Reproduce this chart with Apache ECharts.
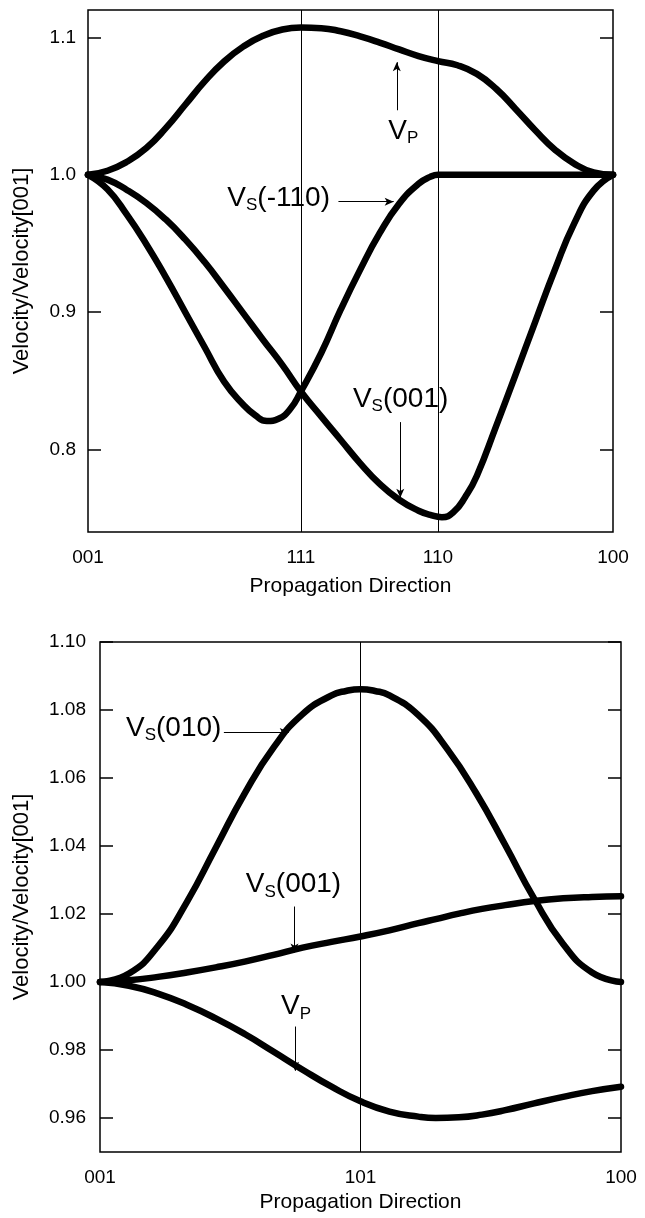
<!DOCTYPE html>
<html>
<head>
<meta charset="utf-8">
<script src="https://cdn.jsdelivr.net/npm/echarts@6/dist/echarts.min.js"></script>
<style>
html,body{margin:0;padding:0;background:#fff;}
#c{width:645px;height:1218px;}
</style>
</head>
<body>
<div id="c"></div>
<script>
// ---------- Top panel: 001 -> 111 -> 110 -> 100 (angle, degrees) ----------
var topAnglesVP   = [0,5,10,15,20,25,30,35,40,45,50,54.74,60,65,70,75,80,85,90,95,100,105,110,115,120,125,130,135];
var topVP         = [1.0,1.003,1.0095,1.0195,1.034,1.051,1.068,1.0825,1.0935,1.1012,1.1058,1.1072,1.1068,1.1045,1.1008,1.0963,1.0913,1.0865,1.0828,1.0798,1.0735,1.0625,1.0478,1.0325,1.0185,1.0082,1.0018,1.0];
var topAnglesS110 = [0,5,10,15,20,25,30,35,40,43,46,49,52,54.74,60,65,70,75,80,85,88,90,100,110,120,135];
var topVS110      = [1.0,0.9895,0.971,0.9495,0.9255,0.900,0.8745,0.8495,0.8325,0.825,0.8208,0.8225,0.8295,0.8423,0.8705,0.902,0.931,0.9575,0.979,0.9935,0.9985,1.0,1.0,1.0,1.0,1.0];
var topAnglesS001 = [0,5,10,15,20,25,30,35,40,45,50,54.74,60,65,70,75,80,85,88,91,94,97,100,105,110,115,120,125,130,135];
var topVS001      = [1.0,0.9965,0.989,0.9795,0.9675,0.953,0.9365,0.918,0.899,0.880,0.8615,0.8423,0.824,0.807,0.790,0.775,0.7635,0.7555,0.7525,0.7508,0.7545,0.7655,0.781,0.8175,0.855,0.893,0.9305,0.9645,0.9885,1.0];
var topTickAngles = [0,54.74,90,135];
var topTickNames  = ['001','111','110','100'];
var topYTicks = [0.8,0.9,1.0,1.1];

// ---------- Bottom panel: 001 -> 101 -> 100 ----------
var botAnglesS010 = [0,5,10,15,20,25,30,35,40,42.5,45,47.5,50,55,60,65,70,75,80,85,90];
var botVS010      = [1.0,1.0025,1.0105,1.0235,1.0395,1.0555,1.069,1.0788,1.0843,1.0856,1.0861,1.0856,1.0843,1.0785,1.0685,1.0555,1.0403,1.0245,1.0112,1.0028,1.0];
var botAngles     = [0,5,10,15,20,25,30,35,40,45,50,55,58,62,66,70,75,80,85,90];
var botVS001      = [1.0,1.0005,1.0015,1.0028,1.0043,1.006,1.008,1.0101,1.0118,1.0134,1.0152,1.0173,1.0185,1.0201,1.0215,1.0226,1.0238,1.0246,1.025,1.0252];
var botVP         = [1.0,0.9989,0.9966,0.9933,0.9893,0.9847,0.9795,0.9742,0.9692,0.9649,0.9619,0.9604,0.96,0.9602,0.961,0.9623,0.9643,0.9662,0.9679,0.9692];
var botTickAngles = [0,45,90];
var botTickNames  = ['001','101','100'];
var botYTicks = [0.96,0.98,1.00,1.02,1.04,1.06,1.08,1.10];

function pairs(xs, ys){ return xs.map(function(x,i){ return [x, ys[i]]; }); }

var FONT = 'Liberation Sans, Arial, sans-serif';
var richStyle = {
  v: {fontSize: 28, fontFamily: FONT, color: '#000', lineHeight: 32, verticalAlign: 'middle'},
  s: {fontSize: 17, fontFamily: FONT, color: '#000', lineHeight: 13, verticalAlign: 'bottom'}
};

function curve(name, xi, yi, data){
  return {
    name: name, type: 'line', xAxisIndex: xi, yAxisIndex: yi,
    data: data, showSymbol: false, smooth: 0.5, silent: true,
    lineStyle: {color: '#000', width: 6.5, cap: 'round', join: 'round'},
    z: 3
  };
}

function txt(coord, fmt){
  return {coord: coord, symbol: 'rect', symbolSize: 1, itemStyle: {color: 'rgba(0,0,0,0)'},
    label: {show: true, position: 'right', distance: 0, formatter: fmt, rich: richStyle}};
}
function arrow(from, to){
  return [{coord: from}, {coord: to}];
}

function annot(xi, yi, lines, texts){
  return {
    type: 'line', xAxisIndex: xi, yAxisIndex: yi, data: [], silent: true, z: 5,
    markLine: {silent: true, symbol: ['none','arrow'], symbolSize: [6,9], animation: false,
      label: {show: false}, lineStyle: {color: '#000', width: 1, type: 'solid'}, data: lines},
    markPoint: {silent: true, animation: false, data: texts}
  };
}

function xAx(gi, max, vals, names, gap){
  return {
    type: 'value', gridIndex: gi, min: 0, max: max, position: 'bottom',
    name: 'Propagation Direction', nameLocation: 'middle', nameGap: gap,
    nameTextStyle: {fontSize: 21, fontFamily: FONT, color: '#000'},
    axisLine: {show: false}, splitLine: {show: false},
    axisTick: {show: false},
    axisLabel: {customValues: vals, margin: 16, fontSize: 19, fontFamily: FONT, color: '#000',
      formatter: function(v){ var i = vals.indexOf(v); return i >= 0 ? names[i] : ''; }}
  };
}
function yAx(gi, min, max, ticks, dec, gap, margin){
  return {
    type: 'value', gridIndex: gi, min: min, max: max, position: 'left',
    name: 'Velocity/Velocity[001]', nameLocation: 'middle', nameGap: gap,
    nameTextStyle: {fontSize: 22, fontFamily: FONT, color: '#000'},
    axisLine: {show: false}, splitLine: {show: false},
    axisTick: {show: true, inside: true, length: 13, customValues: ticks, lineStyle: {color: '#000', width: 1.5}},
    axisLabel: {customValues: ticks, margin: margin, fontSize: 19, fontFamily: FONT, color: '#000',
      formatter: function(v){ return v.toFixed(dec); }}
  };
}
function yAxRight(gi, min, max, ticks){
  return {
    type: 'value', gridIndex: gi, min: min, max: max, position: 'right',
    axisLine: {show: false}, splitLine: {show: false},
    axisTick: {show: true, inside: true, length: 13, customValues: ticks, lineStyle: {color: '#000', width: 1.5}},
    axisLabel: {show: false}
  };
}

var vlineStyle = {silent: true, symbol: 'none', animation: false, label: {show: false},
  lineStyle: {color: '#000', width: 1, type: 'solid'}};

var chart = echarts.init(document.getElementById('c'), null, {renderer: 'canvas'});
var topVPSeries = curve('VP', 0, 0, pairs(topAnglesVP, topVP));
topVPSeries.markLine = Object.assign({data: [{xAxis: topTickAngles[1]}, {xAxis: topTickAngles[2]}]}, vlineStyle);
var botVPSeries = curve('VP2', 1, 2, pairs(botAngles, botVP));
botVPSeries.markLine = Object.assign({data: [{xAxis: botTickAngles[1]}]}, vlineStyle);

chart.setOption({
  animation: false,
  backgroundColor: '#fff',
  grid: [
    {left: 88, right: 32, top: 10, height: 522, show: true, borderColor: '#000', borderWidth: 1.5, backgroundColor: 'transparent', outerBoundsMode: 'none', containLabel: false},
    {left: 100, right: 24, top: 642, height: 510, show: true, borderColor: '#000', borderWidth: 1.5, backgroundColor: 'transparent', outerBoundsMode: 'none', containLabel: false}
  ],
  xAxis: [
    xAx(0, 135, topTickAngles, topTickNames, 44),
    xAx(1, 90, botTickAngles, botTickNames, 40)
  ],
  yAxis: [
    yAx(0, 0.74, 1.12, topYTicks, 1, 55, 12),
    yAxRight(0, 0.74, 1.12, topYTicks),
    yAx(1, 0.95, 1.10, botYTicks, 2, 67, 14),
    yAxRight(1, 0.95, 1.10, botYTicks)
  ],
  series: [
    topVPSeries,
    curve('VS-110', 0, 0, pairs(topAnglesS110, topVS110)),
    curve('VS001', 0, 0, pairs(topAnglesS001, topVS001)),
    annot(0, 0,
      [arrow([79.4, 1.047], [79.4, 1.082]),
       arrow([64.4, 0.9805], [78.6, 0.9805]),
       arrow([80.3, 0.82], [80.3, 0.765])],
      [txt([77.1, 1.032], '{v|V}{s|P}'),
       txt([35.7, 0.983], '{v|V}{s|S}{v|(-110)}'),
       txt([68.0, 0.8368], '{v|V}{s|S}{v|(001)}')]),
    curve('VS010b', 1, 2, pairs(botAnglesS010, botVS010)),
    curve('VS001b', 1, 2, pairs(botAngles, botVS001)),
    botVPSeries,
    annot(1, 2,
      [arrow([21.4, 1.0735], [32.6, 1.0735]),
       arrow([33.6, 1.0222], [33.6, 1.0087]),
       arrow([33.7, 0.9869], [33.7, 0.9739])],
      [txt([4.4, 1.0747], '{v|V}{s|S}{v|(010)}'),
       txt([25.1, 1.0287], '{v|V}{s|S}{v|(001)}'),
       txt([31.2, 0.9928], '{v|V}{s|P}')])
  ]
});
</script>
</body>
</html>
